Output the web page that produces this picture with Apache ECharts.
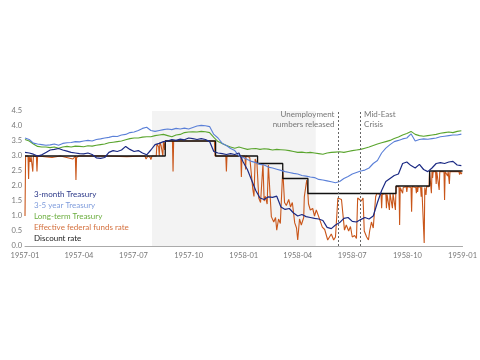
<!DOCTYPE html>
<html>
<head>
<meta charset="utf-8">
<script src="https://cdn.jsdelivr.net/npm/echarts@6/dist/echarts.min.js"></script>
<style>html,body{margin:0;padding:0;background:#fff;}#c{width:480px;height:360px;}</style>
</head>
<body>
<div id="c"></div>
<script>
// Weekly samples starting 1957-01-01 (one value per week)
const weekStart = '1957-01-01';
const bill3m = [3.12,3.1,3.06,3.0,3.04,3.12,3.2,3.22,3.25,3.2,3.16,3.12,3.1,3.08,3.07,3.1,3.05,2.94,2.92,2.95,
3.12,3.18,3.15,3.2,3.32,3.22,3.15,3.18,3.1,3.04,3.2,3.38,3.42,3.48,3.5,3.55,3.52,3.56,3.54,3.6,
3.58,3.55,3.58,3.55,3.48,3.15,3.1,3.08,3.05,3.08,3.05,3.1,2.8,2.55,2.2,1.85,1.6,1.55,1.64,1.62,
1.66,1.3,1.22,1.25,1.1,1.0,1.05,0.98,0.95,0.92,0.9,0.85,0.62,0.58,0.7,0.78,0.92,0.95,0.82,0.8,
0.88,0.95,0.9,1.0,1.45,1.85,2.15,2.25,2.35,2.4,2.75,2.8,2.68,2.6,2.72,2.55,2.48,2.6,2.75,2.78,
2.75,2.8,2.82,2.7,2.68];
const note35 = [3.6,3.55,3.43,3.4,3.38,3.36,3.37,3.4,3.36,3.42,3.44,3.45,3.48,3.47,3.5,3.52,3.5,3.55,3.57,3.6,
3.62,3.66,3.65,3.7,3.72,3.78,3.8,3.85,3.92,3.96,3.85,3.82,3.85,3.88,3.9,3.88,3.92,3.9,3.93,3.9,
3.95,4.0,4.02,4.01,3.98,3.72,3.6,3.42,3.35,3.25,3.18,3.0,2.95,2.88,2.82,2.78,2.72,2.7,2.63,2.6,
2.56,2.52,2.48,2.45,2.42,2.4,2.35,2.33,2.3,2.28,2.22,2.2,2.17,2.14,2.11,2.15,2.25,2.32,2.4,2.45,
2.5,2.53,2.6,2.75,2.85,3.1,3.26,3.38,3.48,3.52,3.57,3.6,3.74,3.5,3.55,3.57,3.56,3.58,3.6,3.64,
3.66,3.68,3.7,3.7,3.73];
const longTerm = [3.55,3.5,3.4,3.32,3.3,3.3,3.28,3.3,3.26,3.3,3.32,3.3,3.33,3.32,3.31,3.34,3.33,3.36,3.38,3.4,
3.44,3.46,3.48,3.5,3.54,3.58,3.6,3.6,3.63,3.64,3.64,3.68,3.7,3.72,3.68,3.64,3.7,3.72,3.78,3.8,
3.81,3.8,3.82,3.81,3.78,3.62,3.48,3.42,3.35,3.3,3.26,3.3,3.26,3.22,3.24,3.25,3.22,3.24,3.23,3.2,
3.22,3.21,3.2,3.18,3.15,3.12,3.13,3.11,3.12,3.1,3.08,3.06,3.1,3.12,3.13,3.14,3.12,3.15,3.18,3.2,
3.22,3.26,3.3,3.35,3.4,3.44,3.48,3.52,3.58,3.63,3.7,3.75,3.82,3.72,3.68,3.66,3.68,3.7,3.72,3.76,
3.78,3.8,3.78,3.82,3.84];
const fedFunds = [
['1957-01-01',1.0],['1957-01-02',3.0],['1957-01-06',3.0],['1957-01-07',2.23],['1957-01-08',2.98],['1957-01-10',2.8],['1957-01-11',3.0],['1957-01-13',2.98],['1957-01-14',2.48],['1957-01-15',3.0],['1957-01-20',2.98],['1957-01-21',2.48],['1957-01-22',3.0],
['1957-02-15',2.95],['1957-03-01',3.0],['1957-03-22',2.9],['1957-03-26',3.0],['1957-03-27',2.2],['1957-03-28',2.95],['1957-03-31',2.9],['1957-04-01',3.0],
['1957-05-15',3.0],['1957-06-20',2.98],['1957-07-20',3.0],['1957-07-22',2.9],['1957-07-23',2.87],['1957-07-25',3.0],['1957-07-29',2.95],['1957-07-30',2.88],['1957-08-01',3.0],['1957-08-08',3.0],['1957-08-09',3.4],['1957-08-12',3.3],['1957-08-13',3.0],['1957-08-14',3.45],['1957-08-16',3.35],['1957-08-19',3.0],['1957-08-20',3.5],['1957-08-22',3.2],['1957-08-23',3.5],
['1957-09-04',3.5],['1957-09-05',2.48],['1957-09-06',3.5],['1957-11-13',3.5],['1957-11-14',3.0],
['1957-12-02',3.0],['1957-12-03',2.48],['1957-12-04',3.0],['1957-12-27',3.0],['1957-12-28',2.3],['1957-12-29',3.0],
['1958-01-03',3.0],['1958-01-04',2.55],['1958-01-05',3.0],['1958-01-11',2.95],['1958-01-14',3.0],['1958-01-16',1.9],['1958-01-18',1.65],['1958-01-20',2.9],['1958-01-23',2.75],['1958-01-26',1.6],['1958-01-29',1.45],['1958-02-02',2.75],['1958-02-04',1.5],['1958-02-06',1.65],['1958-02-09',1.4],['1958-02-11',2.7],['1958-02-14',2.75],['1958-02-16',0.98],['1958-02-20',0.8],['1958-02-23',0.95],['1958-02-25',0.53],['1958-02-28',0.9],['1958-03-03',0.75],['1958-03-07',2.55],['1958-03-10',1.45],['1958-03-13',1.35],['1958-03-17',1.55],['1958-03-20',1.3],['1958-03-23',1.45],['1958-03-27',0.77],['1958-03-30',0.6],['1958-04-01',0.2],['1958-04-04',0.9],['1958-04-07',0.7],['1958-04-11',0.95],['1958-04-12',1.64],['1958-04-16',2.2],['1958-04-17',2.07],['1958-04-19',1.4],['1958-04-22',1.2],['1958-04-26',1.25],['1958-04-29',1.0],['1958-05-02',1.2],['1958-05-06',0.98],['1958-05-09',1.0],['1958-05-12',0.63],['1958-05-16',0.55],['1958-05-19',0.6],['1958-05-21',0.2],['1958-05-24',0.25],['1958-05-27',0.4],['1958-05-31',0.2],['1958-06-03',0.3],['1958-06-05',0.35],['1958-06-07',1.6],['1958-06-10',1.6],['1958-06-13',1.55],['1958-06-15',1.6],['1958-06-18',0.53],['1958-06-21',0.7],['1958-06-25',0.5],['1958-06-28',0.65],['1958-07-01',0.3],['1958-07-05',0.35],['1958-07-08',0.25],['1958-07-10',1.6],['1958-07-13',1.55],['1958-07-16',1.5],['1958-07-19',1.6],['1958-07-21',0.5],['1958-07-25',0.3],['1958-07-28',0.2],['1958-07-30',0.5],['1958-08-02',0.8],['1958-08-05',0.6],['1958-08-09',1.64],['1958-08-11',1.75],
['1958-08-18',1.72],['1958-08-19',1.26],['1958-08-20',1.72],['1958-08-26',1.75],['1958-08-27',1.26],['1958-08-28',1.72],['1958-08-31',1.75],['1958-09-01',1.2],['1958-09-02',1.75],['1958-09-05',1.7],['1958-09-06',1.26],['1958-09-07',1.75],['1958-09-10',1.7],['1958-09-11',1.2],['1958-09-12',1.98],
['1958-09-17',1.98],['1958-09-18',0.7],['1958-09-19',1.95],['1958-09-22',1.98],['1958-09-23',1.76],['1958-09-24',1.95],['1958-09-29',1.98],['1958-09-30',1.8],['1958-10-01',1.98],['1958-10-07',1.95],['1958-10-08',1.14],['1958-10-09',1.98],['1958-10-15',1.95],['1958-10-16',1.76],['1958-10-17',1.98],['1958-10-18',1.8],['1958-10-19',1.98],['1958-10-23',1.95],['1958-10-24',1.64],['1958-10-25',1.98],['1958-10-28',1.98],['1958-10-29',0.1],['1958-10-30',1.95],['1958-10-31',1.98],['1958-11-01',1.7],['1958-11-02',1.98],['1958-11-06',1.98],['1958-11-07',2.48],
['1958-11-09',2.48],['1958-11-10',1.76],['1958-11-11',2.48],['1958-11-12',2.27],['1958-11-13',2.48],['1958-11-17',2.48],['1958-11-18',2.07],['1958-11-19',2.48],['1958-11-22',2.48],['1958-11-23',1.87],['1958-11-24',2.48],['1958-12-01',2.48],['1958-12-02',1.53],['1958-12-03',2.48],['1958-12-06',2.48],['1958-12-07',2.33],['1958-12-08',2.48],['1958-12-09',2.48],['1958-12-10',2.07],['1958-12-11',2.48],['1958-12-26',2.48],['1958-12-27',2.38],['1958-12-28',2.48],['1958-12-30',2.4],['1958-12-31',2.45]
];
const discountRate = [['1957-01-01',3.0],['1957-08-23',3.5],['1957-11-15',3.0],['1958-01-24',2.75],['1958-03-07',2.25],['1958-04-18',1.75],['1958-09-12',2.0],['1958-11-07',2.5],['1959-01-01',2.5]];
const recession = ['1957-08-01','1958-05-01'];
const events = [{date:'1958-06-08', text:'Unemployment\nnumbers released'}, {date:'1958-07-14', text:'Mid-East\nCrisis'}];
const tickDates = ['1957-01-01','1957-04-01','1957-07-01','1957-10-01','1958-01-01','1958-04-01','1958-07-01','1958-10-01','1959-01-01'];
const names = ['3-month Treasury','3-5 year Treasury','Long-term Treasury','Effective federal funds rate','Discount rate'];
const lineColors = ['#1b2a84','#5b80d8','#5aa52e','#c9561a','#111111'];
const textColors = ['#2a3788','#7f9cdc','#6cae3f','#d4703e','#222222'];

const DAY = 86400000;
function ts(s){ const [y,m,d] = s.split('-').map(Number); return Date.UTC(y, m-1, d); }
const t0 = ts(weekStart);
function weekly(vals){ return vals.map((v,i)=>[t0 + i*7*DAY, v]); }
function pairs(arr){ return arr.map(([d,v])=>[ts(d), v]); }
const tickVals = tickDates.map(ts);

const chart = echarts.init(document.getElementById('c'), null, {renderer:'canvas'});
const base = {type:'line', showSymbol:false, symbol:'none', animation:false};
chart.setOption({
  animation:false,
  textStyle:{fontFamily:'Lato'},
  grid:{left:25, right:16, top:111, bottom:114},
  legend:{
    orient:'vertical', left:29, top:189, padding:0, itemGap:0, itemWidth:0, itemHeight:11, icon:'none',
    selectedMode:false,
    data: names.map((n,i)=>({name:n, textStyle:{color:textColors[i], fontSize:8, fontFamily:'Lato', lineHeight:11}}))
  },
  xAxis:{
    type:'value', min:tickVals[0], max:tickVals[tickVals.length-1],
    axisLine:{lineStyle:{color:'#aaaaaa', width:1}},
    axisTick:{show:false}, splitLine:{show:false},
    axisLabel:{customValues:tickVals, hideOverlap:false, color:'#777', fontSize:7.5, margin:6,
      formatter:(v)=>{const d=new Date(v); return d.getUTCFullYear()+'-'+String(d.getUTCMonth()+1).padStart(2,'0');}}
  },
  yAxis:{
    type:'value', min:0, max:4.5, interval:0.5,
    axisLine:{show:false}, axisTick:{show:false}, splitLine:{show:false},
    axisLabel:{color:'#777', fontSize:7.5, margin:3, formatter:(v)=>v.toFixed(1)}
  },
  series:[
    Object.assign({}, base, {name:names[3], data:pairs(fedFunds), lineStyle:{color:lineColors[3], width:1.1}, itemStyle:{color:lineColors[3]}, z:1,
      markArea:{silent:true, itemStyle:{color:'#f3f3f3'}, data:[[{xAxis:ts(recession[0])},{xAxis:ts(recession[1])}]]},
      markLine:{silent:true, symbol:'none', label:{show:false}, lineStyle:{color:'#666', type:[2,2], width:1},
        data: events.map(e=>({xAxis:ts(e.date)}))}
    }),
    Object.assign({}, base, {name:names[4], data:pairs(discountRate), step:'end', lineStyle:{color:lineColors[4], width:1.3}, itemStyle:{color:lineColors[4]}, z:2}),
    Object.assign({}, base, {name:names[2], data:weekly(longTerm), lineStyle:{color:lineColors[2], width:1.1}, itemStyle:{color:lineColors[2]}, z:3}),
    Object.assign({}, base, {name:names[1], data:weekly(note35), lineStyle:{color:lineColors[1], width:1.1}, itemStyle:{color:lineColors[1]}, z:4}),
    Object.assign({}, base, {name:names[0], data:weekly(bill3m), lineStyle:{color:lineColors[0], width:1.2}, itemStyle:{color:lineColors[0]}, z:5})
  ]
});
// annotation texts beside the event lines
const p1 = chart.convertToPixel({gridIndex:0}, [ts(events[0].date), 4.5]);
const p2 = chart.convertToPixel({gridIndex:0}, [ts(events[1].date), 4.5]);
chart.setOption({graphic:[
  {type:'text', z:100, zlevel:1, x:p1[0]-4, y:p1[1]-2, style:{text:events[0].text, align:'right', verticalAlign:'top', fill:'#777', font:'8px Lato', lineHeight:10}},
  {type:'text', z:100, zlevel:1, x:p2[0]+4, y:p2[1]-2, style:{text:events[1].text, align:'left', verticalAlign:'top', fill:'#777', font:'8px Lato', lineHeight:10}}
]});
</script>
</body>
</html>
